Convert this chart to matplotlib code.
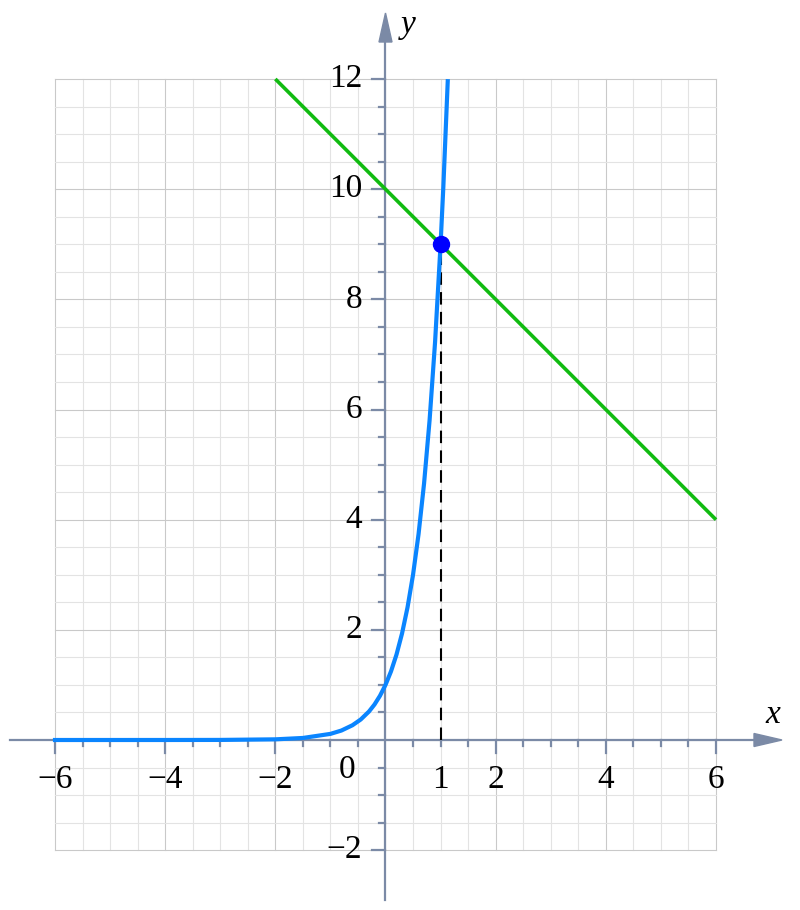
import numpy as np
import matplotlib
matplotlib.use('Agg')
import matplotlib.pyplot as plt
from matplotlib.patches import Polygon

# curve y = 9^x
curve_x = [-6, -5, -4, -3, -2, -1.5, -1, -0.8, -0.6, -0.45, -0.3, -0.2, -0.1,
           0, 0.1, 0.2, 0.3, 0.4, 0.5, 0.6, 0.7, 0.8, 0.9, 1, 1.05, 1.13]
curve_y = [0.0, 0.0, 0.0002, 0.0014, 0.012, 0.037, 0.111, 0.172, 0.268, 0.372,
           0.517, 0.644, 0.803, 1.0, 1.246, 1.552, 1.933, 2.408, 3.0, 3.737,
           4.656, 5.800, 7.225, 9.0, 10.04, 11.96]

# line y = 10 - x
line_x = [-2, 6]
line_y = [12, 4]

# intersection point
pt_x = [1]
pt_y = [9]

xtick_vals = [-6, -4, -2, 2, 4, 6]
ytick_vals = [-2, 2, 4, 6, 8, 10, 12]

W, H = 800, 910
px = 55.083   # pixels per unit
fig = plt.figure(figsize=(W / 100, H / 100), dpi=100)
ax = fig.add_axes([0, 0, 1, 1])
x0 = -6 - 55 / px
x1 = x0 + W / px
y1 = 740 / px
y0 = y1 - H / px
ax.set_xlim(x0, x1)
ax.set_ylim(y0, y1)
ax.axis('off')

#=======================
# grid
minor_c = '#e3e3e3'
major_c = '#c9c9c9'
for v in np.arange(-6, 6.01, 0.5):
    c = major_c if abs(v % 2) < 1e-9 else minor_c
    ax.plot([v, v], [-2, 12], color=c, lw=0.8, zorder=1)
for v in np.arange(-2, 12.01, 0.5):
    c = major_c if abs(v % 2) < 1e-9 else minor_c
    ax.plot([-6, 6], [v, v], color=c, lw=0.8, zorder=1)

#=======================
# axes with arrows
axc = '#7b8aa6'
u = 1 / px
ax.plot([10 * u + x0, 7.0], [0, 0], color=axc, lw=1.6, zorder=2)
ax.plot([0, 0], [y1 - 900 * u, 13.0], color=axc, lw=1.6, zorder=2)
xt = x0 + 782 * u
ax.add_patch(Polygon([[xt, 0], [xt - 28 * u, 6.5 * u], [xt - 28 * u, -6.5 * u]],
                     closed=True, color=axc, zorder=2))
yt = y1 - 13 * u
ax.add_patch(Polygon([[0, yt], [-6.5 * u, yt - 29 * u], [6.5 * u, yt - 29 * u]],
                     closed=True, color=axc, zorder=2))

# ticks
for v in np.arange(-6, 6.01, 0.5):
    L = 13 if abs(v % 2) < 1e-9 else 6
    if abs(v) < 1e-9:
        continue
    ax.plot([v, v], [0, -L * u], color=axc, lw=1.6, zorder=2)
for v in np.arange(-2, 12.01, 0.5):
    L = 13 if abs(v % 2) < 1e-9 else 6
    if abs(v) < 1e-9:
        continue
    ax.plot([0, -L * u], [v, v], color=axc, lw=1.6, zorder=2)

#=======================
# labels
font = dict(family=['Liberation Serif', 'DejaVu Serif'], fontsize=24, color='black')
for v in xtick_vals:
    ax.text(v, -40 * u, '\u2212%d' % -v if v < 0 else '%d' % v,
            ha='center', va='center', **font)
ax.text(1, -40 * u, '1', ha='center', va='center', **font)
ax.text(-38 * u, -30 * u, '0', ha='center', va='center', **font)
for v in ytick_vals:
    ax.text(-23 * u, v, '\u2212%d' % -v if v < 0 else '%d' % v,
            ha='right', va='center', **font)
ax.text(x0 + 773 * u, y1 - 715 * u, 'x', ha='center', va='center',
        style='italic', **font)
ax.text(x0 + 408 * u, y1 - 25 * u, 'y', ha='center', va='center',
        style='italic', **font)

#=======================
# data
ax.plot([1, 1], [0, 9], color='black', lw=1.5, ls=(0, (6, 3.5)), zorder=3)
ax.plot(line_x, line_y, color='#11bb11', lw=2.6, zorder=4,
        solid_capstyle='butt')
ax.plot(curve_x, curve_y, color='#0a85ff', lw=3.0, zorder=5,
        solid_joinstyle='round')
ax.plot(pt_x, pt_y, 'o', color='#0000ff', markersize=11.5, zorder=6)

fig.savefig('out.png', dpi=100)
